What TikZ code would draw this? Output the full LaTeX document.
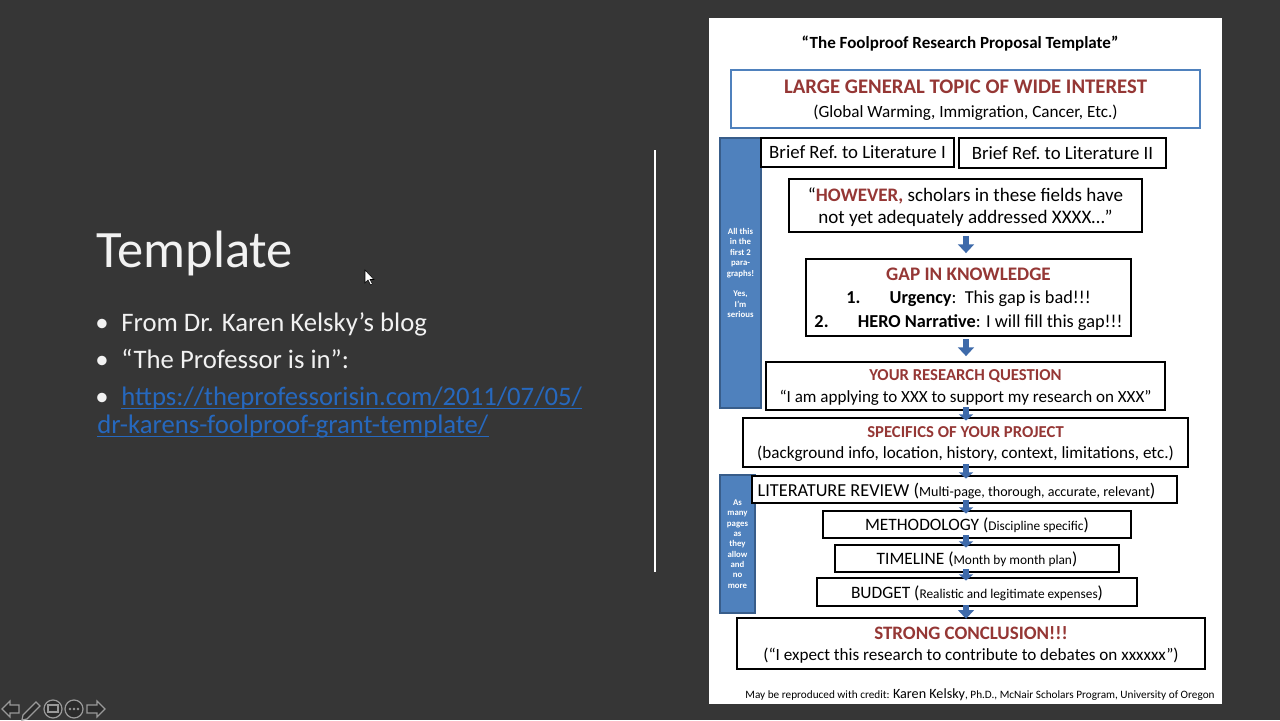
\documentclass[tikz,border=0pt]{standalone}
\usepackage{fontspec}
\setmainfont{Carlito}
\usetikzlibrary{arrows.meta}

\definecolor{slidebg}{RGB}{54,54,54}
\definecolor{slidetext}{RGB}{242,242,242}
\definecolor{linkblue}{RGB}{38,104,190}
\definecolor{headred}{RGB}{149,55,53}
\definecolor{barblue}{RGB}{79,129,189}
\definecolor{barborder}{RGB}{56,93,138}
\definecolor{arrowblue}{RGB}{62,106,170}

\newcommand{\fsz}[2]{\fontsize{#1pt}{#2pt}\selectfont}
\newcommand{\pxu}{0.02cm}
\newcommand{\red}[1]{\textcolor{headred}{\textbf{#1}}}

\tikzset{
  box/.style={draw=black, line width=1.1pt, fill=white, inner sep=0pt, align=center, text depth=0pt, font=\fsz{10.4}{12.5}},
  bluebar/.style={draw=barborder, line width=0.8pt, fill=barblue, text=white, inner sep=0pt, align=center, font=\fsz{5}{5.9}\bfseries},
  slidetxt/.style={text=slidetext, inner sep=0pt, font=\fsz{15.2}{18}},
  flowarrow/.style={draw=arrowblue, line width=3pt, -{Triangle[width=9pt,length=5pt]}},
  shortarrow/.style={draw=arrowblue, line width=3pt, -{Triangle[width=8pt,length=3.5pt]}, shorten <=-2pt, shorten >=-2pt},
  navicon/.style={draw=gray!80, line width=0.7pt, fill=slidebg!80!black},
}

\begin{document}
\begin{tikzpicture}[x=\pxu, y=-\pxu]
  \fill[slidebg] (0,0) rectangle (1280,720);
  \useasboundingbox (0,0) rectangle (1280,720);

  % left half of the slide
  \node[slidetxt, anchor=base west, font=\fsz{29.9}{34}] (title) at (96,267) {Template};
  \node[slidetxt, anchor=base] (dot1) at (102,331) {\textbullet};
  \node[slidetxt, anchor=base west] (item1) at (121,331) {From Dr. Karen Kelsky’s blog};
  \node[slidetxt, anchor=base] (dot2) at (102,368) {\textbullet};
  \node[slidetxt, anchor=base west] (item2) at (121,368) {“The Professor is in”:};
  \node[slidetxt, anchor=base] (dot3) at (102,405) {\textbullet};
  \node[slidetxt, anchor=base west, text=linkblue] (link1) at (121,405) {https://theprofessorisin.com/2011/07/05/};
  \node[slidetxt, anchor=base west, text=linkblue] (link2) at (97,433) {dr-karens-foolproof-grant-template/};
  \draw[linkblue, line width=0.8pt] ([yshift=-2pt]link1.base west) -- ([yshift=-2pt]link1.base east);
  \draw[linkblue, line width=0.8pt] ([yshift=-2pt]link2.base west) -- ([yshift=-2pt]link2.base east);

  \draw[white, line width=1.2pt] (655,150) -- (655,572); % divider

  % mouse pointer
  \filldraw[fill=white, draw=black, line width=0.3pt] (365,270) -- (365,283) -- (368,280) -- (370.5,285) -- (372.5,284) -- (370,279.5) -- (374,279.5) -- cycle;

  % the template sheet
  \fill[white] (709,18) rectangle (1222,704);
  \node[font=\fsz{9.7}{11}\bfseries, inner sep=0pt] (sheettitle) at (960,44) {“The Foolproof Research Proposal Template”};

  \node[box, draw=barblue, line width=1.2pt, minimum width=469*\pxu, minimum height=58*\pxu, font=\fsz{9.75}{13.6}] (topic) at (965.5,99)
    {{\fsz{11.8}{13.6}\textcolor{headred}{\textbf{LARGE GENERAL TOPIC OF WIDE INTEREST}}}\\(Global Warming, Immigration, Cancer, Etc.)};

  \node[bluebar, minimum width=41*\pxu, minimum height=270*\pxu] (bar1) at (740.5,273)
    {All this\\in the\\first 2\\para-\\graphs!\\[5.9pt]Yes,\\I’m\\serious};
  \node[bluebar, minimum width=35*\pxu, minimum height=138*\pxu] (bar2) at (737.5,544)
    {As\\many\\pages\\as\\they\\allow\\and\\no\\more};

  \node[box, minimum width=193*\pxu, minimum height=29*\pxu, font=\fsz{10.7}{12.5}] (refone) at (857.5,152.5) {Brief Ref.\ to Literature I};
  \node[box, minimum width=207*\pxu, minimum height=30*\pxu, font=\fsz{10.7}{12.5}] (reftwo) at (1062.5,153) {Brief Ref.\ to Literature II};

  \node[box, minimum width=353*\pxu, minimum height=53*\pxu, font=\fsz{10.85}{12.6}] (however) at (965.5,205.5)
    {“\red{HOWEVER,} scholars in these fields have\\not yet adequately addressed XXXX…”};

  \node[box, minimum width=325*\pxu, minimum height=77*\pxu, font=\fsz{10.4}{13.4}] (gap) at (968.5,297.5)
    {{\fsz{10.9}{13.4}\red{GAP IN KNOWLEDGE}}\\\textbf{1.}\hspace{1.6em}\textbf{Urgency}:\ \ This gap is bad!!!\\\textbf{2.}\hspace{1.6em}\textbf{HERO Narrative}: I will fill this gap!!!};

  \node[box, minimum width=399*\pxu, minimum height=48*\pxu, font=\fsz{9.7}{12}] (question) at (965.5,386)
    {{\fsz{9.5}{12}\red{YOUR RESEARCH QUESTION}}\\“I am applying to XXX to support my research on XXX”};

  \node[box, minimum width=445*\pxu, minimum height=49*\pxu, font=\fsz{9.75}{12}] (specifics) at (965.5,442.5)
    {{\fsz{9.5}{12}\red{SPECIFICS OF YOUR PROJECT}}\\(background info, location, history, context, limitations, etc.)};

  \node[box, minimum width=425*\pxu, minimum height=27*\pxu] (litreview) at (964.5,489.5)
    {LITERATURE REVIEW ({\fsz{8}{9}Multi-page,\ thorough, accurate, relevant})\hspace*{9pt}};
  \node[box, minimum width=308*\pxu, minimum height=27*\pxu, font=\fsz{9.9}{12}] (method) at (977,524.5)
    {METHODOLOGY ({\fsz{7.6}{9}Discipline specific})};
  \node[box, minimum width=284*\pxu, minimum height=27*\pxu, font=\fsz{9.9}{12}] (timeline) at (977,558.5)
    {TIMELINE ({\fsz{7.6}{9}Month by month plan})};
  \node[box, minimum width=320*\pxu, minimum height=28*\pxu, font=\fsz{9.9}{12}] (budget) at (977,592)
    {BUDGET ({\fsz{7.6}{9}Realistic and legitimate expenses})};

  \node[box, minimum width=468*\pxu, minimum height=51*\pxu, font=\fsz{9.75}{12.5}] (conclusion) at (971,643.5)
    {{\fsz{10.8}{12.5}\red{STRONG CONCLUSION!!!}}\\(“I expect this research to contribute to debates on xxxxxx”)};

  \node[anchor=base, inner sep=0pt, font=\fsz{6.4}{7}] (credit) at (980,698)
    {May be reproduced with credit: {\fsz{8.05}{9}Karen Kelsky}, Ph.D., McNair Scholars Program, University of Oregon};

  % arrows down the sheet
  \coordinate (spine) at (966,0);
  \draw[flowarrow, shorten <=1.7pt, shorten >=2.8pt] (however.south -| spine) -- (gap.north -| spine);
  \draw[flowarrow, shorten <=1.2pt, shorten >=2.8pt] (gap.south -| spine) -- (question.north -| spine);
  \draw[shortarrow] (question.south -| spine) -- (specifics.north -| spine);
  \draw[shortarrow] (specifics.south -| spine) -- (litreview.north -| spine);
  \draw[shortarrow] (litreview.south -| spine) -- (method.north -| spine);
  \draw[shortarrow] (method.south -| spine) -- (timeline.north -| spine);
  \draw[shortarrow] (timeline.south -| spine) -- (budget.north -| spine);
  \draw[flowarrow, shorten <=-1pt, shorten >=-1pt] (budget.south -| spine) -- (conclusion.north -| spine);

  % slide show controls
  \filldraw[navicon] (2,709) -- (10,701) -- (10,705) -- (19,705) -- (19,713) -- (10,713) -- (10,717) -- cycle;
  \filldraw[navicon] (23,715) -- (36,702) -- (40,706) -- (27,719) -- (22,720) -- cycle;
  \filldraw[navicon] (53,709) circle[radius=9];
  \draw[gray!80, line width=0.6pt] (48,705) rectangle (58,712);
  \filldraw[navicon] (74,709) circle[radius=9];
  \foreach \dx in {-4,0,4}
    \fill[gray!80] (74+\dx,709) circle[radius=1.4];
  \filldraw[navicon] (105,709) -- (97,701) -- (97,705) -- (87,705) -- (87,713) -- (97,713) -- (97,717) -- cycle;
\end{tikzpicture}
\end{document}
